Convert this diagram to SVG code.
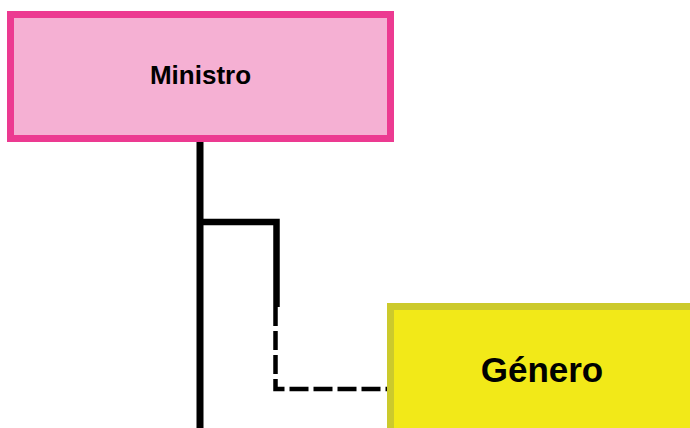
<svg xmlns="http://www.w3.org/2000/svg" width="690" height="428" viewBox="0 0 690 428">
<style>
.lbl{font-family:"Liberation Sans",Arial,sans-serif;font-weight:bold;fill:#000;text-anchor:middle}
.ln{fill:none;stroke:#000}
</style>
<rect width="690" height="428" fill="#fff"/>
<g id="connectors">
<line class="ln" x1="200" y1="138" x2="200" y2="428" stroke-width="7"/>
<polyline class="ln" points="200,222 276.5,222 276.5,307" stroke-width="6.5"/>
<polyline class="ln" points="275.5,307 275.5,389 387,389" stroke-width="4.5" stroke-dasharray="19,5"/>
</g>
<g id="ministro">
<rect x="10.5" y="14.5" width="380" height="124" fill="#F5B0D3" stroke="#EC3A91" stroke-width="7"/>
<text class="lbl" x="200.5" y="84" font-size="26">Ministro</text>
</g>
<g id="genero">
<rect x="390.5" y="306.5" width="320" height="140" fill="#F2E918" stroke="#CCCA2C" stroke-width="7"/>
<text class="lbl" x="542" y="382" font-size="35">Género</text>
</g>
</svg>
